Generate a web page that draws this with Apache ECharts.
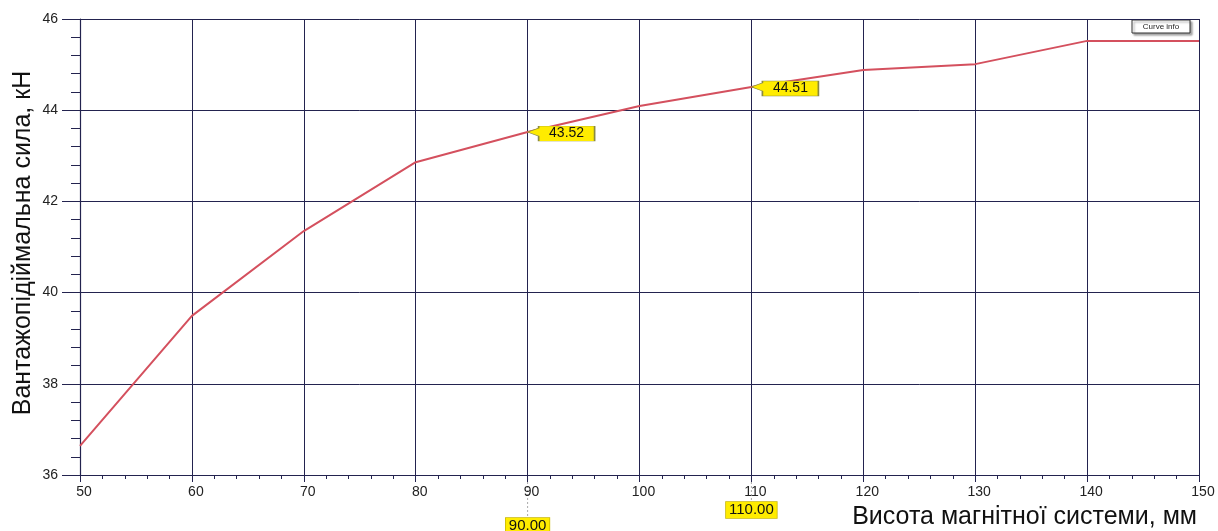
<!DOCTYPE html>
<html>
<head>
<meta charset="utf-8">
<script src="https://cdn.jsdelivr.net/npm/echarts@6/dist/echarts.min.js"></script>
<style>
  html, body { margin: 0; padding: 0; background: #fff; }
  #chart { width: 1218px; height: 531px; }
</style>
</head>
<body>
<div id="chart"></div>
<script>
// Lifting force of the magnet vs. height of the magnetic system
const heights = [50, 60, 70, 80, 90, 100, 110, 120, 130, 140, 150];
const forces = [36.64, 39.49, 41.35, 42.86, 43.52, 44.09, 44.51, 44.88, 45.01, 45.52, 45.52];
// Points with value callouts
const calloutX = [90, 110];
const calloutY = [43.52, 44.51];
const xTitle = 'Висота магнітної системи, мм';
const yTitle = 'Вантажопідіймальна сила, кН';

const gridColor = '#23234f';
const fontFamily = '"Liberation Sans", Arial, sans-serif';

const chart = echarts.init(document.getElementById('chart'));

const calloutPath = 'path://M0,6 L11,2 L11,0 L67,0 L67,15 L11,15 L11,10 Z';

chart.setOption({
  animation: false,
  grid: { left: 80, right: 19, top: 19, bottom: 56, outerBoundsMode: 'none', containLabel: false },
  xAxis: {
    type: 'value', min: 50, max: 150, interval: 10,
    axisLine: { lineStyle: { color: gridColor, width: 1.2 } },
    axisTick: { show: true, length: 7, lineStyle: { color: gridColor } },
    minorTick: { show: true, splitNumber: 5, length: 4, lineStyle: { color: gridColor } },
    splitLine: { show: true, lineStyle: { color: gridColor, width: 1 } },
    axisLabel: { color: '#222', fontSize: 14, fontFamily, margin: 10, padding: [0, 0, 0, 8] }
  },
  yAxis: {
    type: 'value', min: 36, max: 46, interval: 2,
    axisLine: { show: true, lineStyle: { color: gridColor, width: 1.2 } },
    axisTick: { show: true, length: 18, lineStyle: { color: gridColor } },
    minorTick: { show: true, splitNumber: 5, length: 9, lineStyle: { color: gridColor } },
    splitLine: { show: true, lineStyle: { color: gridColor, width: 1 } },
    axisLabel: { color: '#222', fontSize: 14, fontFamily, margin: 22 }
  },
  series: [{
    type: 'line',
    data: heights.map((h, i) => [h, forces[i]]),
    showSymbol: false,
    lineStyle: { color: '#d4505e', width: 2 },
    markPoint: {
      symbol: calloutPath,
      symbolSize: [67, 15],
      symbolOffset: [33.5, 1.5],
      itemStyle: { color: '#ffec00', borderColor: '#8a8a40', borderWidth: 0.8 },
      label: {
        show: true, position: 'inside', offset: [5.5, 0],
        color: '#111', fontSize: 14, fontFamily,
        formatter: p => p.data.coord[1].toFixed(2)
      },
      data: calloutX.map((x, i) => ({ coord: [x, calloutY[i]] }))
    }
  }],
  graphic: []
});

// Yellow axis value markers below the x axis, axis titles and the "Curve info" box
const graphics = [];
const markerDrops = [51, 35];
calloutX.forEach((x, i) => {
  const px = chart.convertToPixel({ xAxisIndex: 0 }, x);
  const cy = 475 + markerDrops[i];
  graphics.push({
    type: 'line', silent: true,
    shape: { x1: px, y1: 478, x2: px, y2: cy - 8 },
    style: { stroke: '#aaaaaa', lineWidth: 1, lineDash: [2, 2] }
  });
  graphics.push({
    type: 'text', silent: true,
    x: px, y: cy,
    style: {
      text: x.toFixed(2), align: 'center', verticalAlign: 'middle',
      fill: '#111', font: '15px ' + fontFamily,
      backgroundColor: '#ffec00', borderColor: '#c9b800', borderWidth: 0.8,
      padding: [1, 3, 0, 3]
    }
  });
});
graphics.push({
  type: 'text', silent: true, x: 23, y: 243, rotation: Math.PI / 2,
  style: { text: yTitle, align: 'center', verticalAlign: 'middle', fill: '#111', font: '25px ' + fontFamily }
});
graphics.push({
  type: 'text', silent: true, right: 21, top: 505,
  style: { text: xTitle, fill: '#111', font: '25px ' + fontFamily }
});
graphics.push({
  type: 'rect', silent: true,
  shape: { x: 1132, y: 20, width: 58, height: 13 },
  style: { fill: '#fff', stroke: '#333', lineWidth: 1, shadowColor: 'rgba(0,0,0,0.35)', shadowOffsetX: 2, shadowOffsetY: 2, shadowBlur: 2 }
});
graphics.push({
  type: 'text', silent: true, x: 1161, y: 27,
  style: { text: 'Curve info', align: 'center', verticalAlign: 'middle', fill: '#222', font: '8px ' + fontFamily }
});
chart.setOption({ graphic: graphics });
</script>
</body>
</html>
